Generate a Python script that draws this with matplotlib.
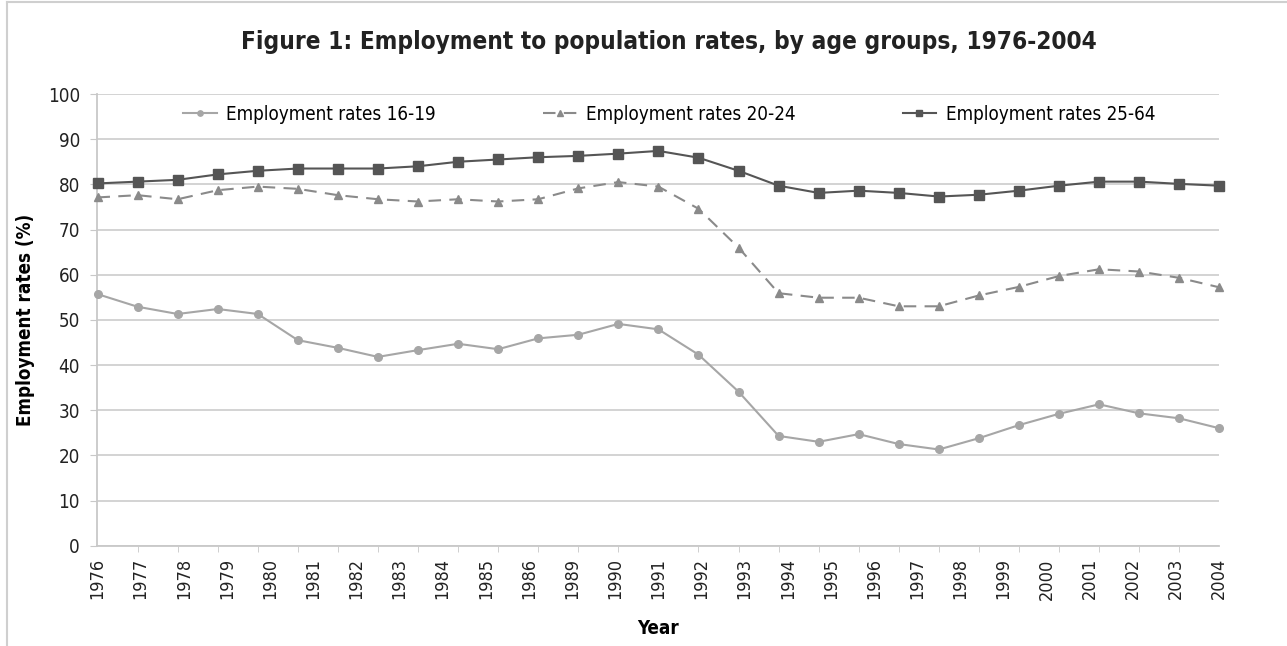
"""
Figure 1: Employment to population rates, by age groups, 1976-2004
"""

import matplotlib.pyplot as plt
import numpy as np
from matplotlib.lines import Line2D

# tick labels as printed on the chart (27 labels spread over 29 points)
year_labels = ["1976", "1977", "1978", "1979", "1980", "1981", "1982", "1983",
               "1984", "1985", "1986", "1989", "1990", "1991", "1992", "1993",
               "1994", "1995", "1996", "1997", "1998", "1999", "2000", "2001",
               "2002", "2003", "2004"]

rate_16_19 = [55.7, 52.9, 51.3, 52.4, 51.3, 45.5, 43.8, 41.8, 43.3, 44.7,
              43.5, 45.9, 46.7, 49.1, 47.9, 42.3, 34.1, 24.3, 23.0, 24.7,
              22.5, 21.3, 23.8, 26.7, 29.2, 31.3, 29.3, 28.2, 26.0]
rate_20_24 = [77.1, 77.6, 76.7, 78.7, 79.5, 79.0, 77.6, 76.7, 76.2, 76.7,
              76.2, 76.7, 79.1, 80.5, 79.5, 74.6, 66.0, 55.9, 54.9, 54.9,
              53.0, 53.0, 55.4, 57.3, 59.7, 61.2, 60.7, 59.3, 57.2]
rate_25_64 = [80.2, 80.6, 81.0, 82.2, 83.0, 83.5, 83.5, 83.5, 84.0, 85.0,
              85.5, 86.0, 86.3, 86.8, 87.4, 85.9, 83.0, 79.7, 78.1, 78.6,
              78.1, 77.3, 77.7, 78.6, 79.7, 80.6, 80.6, 80.1, 79.7]

plt.rcParams["font.family"] = ["DejaVu Sans"]
plt.rcParams["font.stretch"] = "condensed"

W, H = 1287, 646
fig = plt.figure(figsize=(W / 100, H / 100), dpi=100)
ax = fig.add_axes([96.7 / W, 1 - 545.7 / H, (1219.3 - 96.7) / W, (545.7 - 94) / H])

x = np.arange(len(rate_25_64))

ax.plot(x, rate_16_19, color="#a6a6a6", lw=1.5, marker="o", ms=5.5,
        label="Employment rates 16-19", clip_on=False, zorder=3)
ax.plot(x, rate_20_24, color="#8a8a8a", lw=1.5, ls=(0, (6, 4)), marker="^", ms=6,
        label="Employment rates 20-24", clip_on=False, zorder=3)
ax.plot(x, rate_25_64, color="#555555", lw=1.5, marker="s", ms=6.5,
        label="Employment rates 25-64", clip_on=False, zorder=4)

ax.set_ylim(0, 100)
ax.set_xlim(-0.02, x[-1] - 0.03)
ax.set_yticks(range(0, 101, 10))
ax.grid(axis="y", color="#d0d0d0", lw=1.3)
ax.set_axisbelow(True)

# labels spread evenly, small ticks at every data point
label_pos = np.linspace(0, x[-1], len(year_labels))
ax.set_xticks(label_pos, year_labels, rotation=90)
ax.set_xticks(x, minor=True)
ax.tick_params(axis="x", which="major", length=0, pad=9, labelsize=13, colors="#222222")
ax.tick_params(axis="x", which="minor", length=4, color="#c8c8c8")
ax.tick_params(axis="y", length=5, color="#c8c8c8", pad=7, labelsize=13.5, labelcolor="#222222")

for side in ["top", "right"]:
    ax.spines[side].set_visible(False)
ax.spines["left"].set_color("#c8c8c8")
ax.spines["bottom"].set_color("#c8c8c8")
ax.spines["left"].set_linewidth(1.3)
ax.spines["bottom"].set_linewidth(1.3)

ax.set_ylabel("Employment rates (%)", fontsize=13.5, fontweight="bold")
ax.yaxis.set_label_coords(-62 / 1122.6, 0.5)
ax.set_xlabel("Year", fontsize=13.5, fontweight="bold", labelpad=14)

ax.legend(loc="center", bbox_to_anchor=(0.51, 0.955), ncol=3, frameon=False,
          fontsize=13.5, handlelength=1.8, handletextpad=0.5, columnspacing=5.7,
          markerscale=0.7)

fig.text(0.52, 1 - 42 / H, "Figure 1: Employment to population rates, by age groups, 1976-2004",
         ha="center", va="center", fontsize=17.5, fontweight="bold", color="#222222")

# light frame around the chart
fig.add_artist(Line2D([7 / W, 1], [1 - 2 / H, 1 - 2 / H], color="#cfcfcf", lw=1.5))
fig.add_artist(Line2D([7 / W, 7 / W], [0, 1 - 2 / H], color="#cfcfcf", lw=1.5))

fig.savefig("out.png", dpi=100)
